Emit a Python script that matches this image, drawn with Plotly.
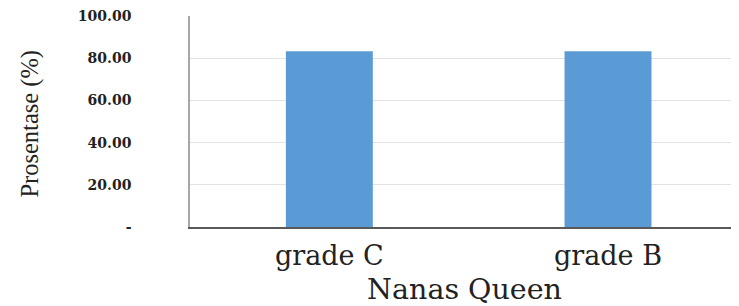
import plotly.graph_objects as go

categories = ["grade C", "grade B"]
values = [83.33, 83.33]
y_tickvals = [0, 20, 40, 60, 80, 100]
y_ticktext = ["-", "20.00", "40.00", "60.00", "80.00", "100.00"]

fig = go.Figure()
fig.add_trace(go.Bar(x=categories, y=values, marker=dict(color="#5B9BD5", line=dict(width=0)),
                     width=0.312))

# page body has an 8px default margin, so the figure is sized to fit the window
fig.update_layout(
    width=731, height=298,
    margin=dict(l=182, r=0, t=8, b=79, autoexpand=False),
    paper_bgcolor="white", plot_bgcolor="white",
    showlegend=False,
    font=dict(family="DejaVu Serif", color="#222222"),
)
fig.update_xaxes(
    range=[-0.5, 1.47], automargin=False,
    showline=True, linecolor="#595959", linewidth=1.5,
    showgrid=False, ticks="",
    tickfont=dict(family="DejaVu Serif", size=27, color="#222222"),
    ticklabelstandoff=4,
    title=dict(text="Nanas Queen", font=dict(family="DejaVu Serif", size=28.5, color="#222222"), standoff=10),
)
fig.update_yaxes(
    range=[0, 100], automargin=False,
    tickvals=y_tickvals, ticktext=y_ticktext,
    showline=True, linecolor="#A6A6A6", linewidth=1.5,
    showgrid=True, gridcolor="#E3E3E3", gridwidth=1,
    zeroline=False, ticks="",
    tickfont=dict(family="DejaVu Serif", size=14, color="#222222", weight="bold"),
    ticklabelstandoff=54, ticklabeloverflow="allow",
)
fig.add_annotation(
    text="Prosentase (%)", textangle=-90,
    xref="paper", yref="paper", x=(22 - 182) / 549, y=0.49,
    xanchor="center", yanchor="middle", showarrow=False,
    font=dict(family="Liberation Serif", size=24.5, color="#222222"),
)

fig.write_html("out.html")
